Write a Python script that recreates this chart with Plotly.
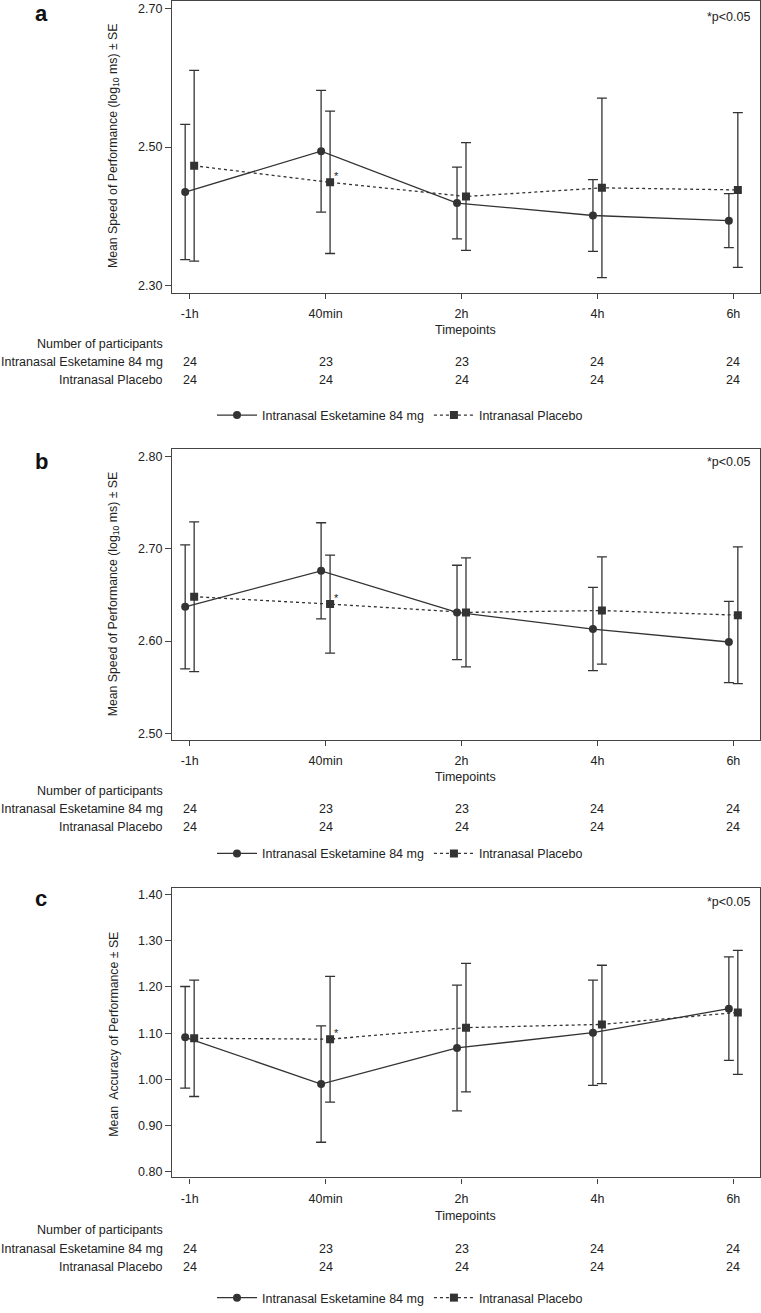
import plotly.graph_objects as go

W, H = 761, 1313

# ---------------- data ----------------
timepoints = ["-1h", "40min", "2h", "4h", "6h"]
group_names = ["Intranasal Esketamine 84 mg", "Intranasal Placebo"]

n_esk = [24, 23, 23, 24, 24]
n_pla = [24, 24, 24, 24, 24]

# Panel a: speed of performance (log10 ms)
a_esk_mean = [2.435, 2.494, 2.419, 2.401, 2.3935]
a_esk_se = [0.098, 0.088, 0.052, 0.052, 0.039]
a_pla_mean = [2.473, 2.449, 2.4285, 2.441, 2.438]
a_pla_se = [0.138, 0.103, 0.078, 0.130, 0.112]

# Panel b: speed of performance (log10 ms)
b_esk_mean = [2.637, 2.676, 2.631, 2.613, 2.599]
b_esk_se = [0.067, 0.052, 0.051, 0.045, 0.044]
b_pla_mean = [2.648, 2.640, 2.631, 2.633, 2.628]
b_pla_se = [0.081, 0.053, 0.059, 0.058, 0.074]

# Panel c: accuracy of performance
c_esk_mean = [1.091, 0.990, 1.068, 1.101, 1.153]
c_esk_se = [0.110, 0.126, 0.136, 0.114, 0.112]
c_pla_mean = [1.089, 1.087, 1.112, 1.119, 1.145]
c_pla_se = [0.126, 0.136, 0.139, 0.128, 0.134]

a_yticks = [2.30, 2.50, 2.70]
b_yticks = [2.50, 2.60, 2.70, 2.80]
c_yticks = [0.80, 0.90, 1.00, 1.10, 1.20, 1.30, 1.40]

sig_index = 1  # 40min, placebo marked *

# ---------------- style / layout helpers ----------------
FONT = "Liberation Sans, Arial, sans-serif"
FS = 12.5
TXT = "#222222"
LINE = "#333333"
AX = "#444444"
DODGE = 0.033


def py(p):
    return 1 - p / H


def px(p):
    return p / W


panels = [
    dict(key="a", esk=a_esk_mean, esk_se=a_esk_se, pla=a_pla_mean, pla_se=a_pla_se,
         yticks=a_yticks, yrange=[2.2885, 2.7115], top=1, bottom=295,
         ytitle="Mean Speed of Performance (log<sub>10</sub> ms) ± SE", ytitle_y=146,
         letter_y=14, p_y=17, tp_y=332, num_y=346, e_y=364, p2_y=382, leg_y=418),
    dict(key="b", esk=b_esk_mean, esk_se=b_esk_se, pla=b_pla_mean, pla_se=b_pla_se,
         yticks=b_yticks, yrange=[2.4928, 2.8075], top=452, bottom=744.7,
         ytitle="Mean Speed of Performance (log<sub>10</sub> ms) ± SE", ytitle_y=597,
         letter_y=464, p_y=465, tp_y=782, num_y=796, e_y=814, p2_y=832, leg_y=859),
    dict(key="c", esk=c_esk_mean, esk_se=c_esk_se, pla=c_pla_mean, pla_se=c_pla_se,
         yticks=c_yticks, yrange=[0.7878, 1.4144], top=893.3, bottom=1184.7,
         ytitle="Mean\u00a0 Accuracy of Performance ± SE", ytitle_y=1040,
         letter_y=904, p_y=908, tp_y=1223, num_y=1238, e_y=1257, p2_y=1275, leg_y=1306),
]

fig = go.Figure()
annotations = []
layout = dict(
    width=W, height=H, margin=dict(l=0, r=0, t=0, b=0),
    paper_bgcolor="white", plot_bgcolor="white",
    font=dict(family=FONT, size=FS, color=TXT),
)

xidx = list(range(len(timepoints)))
X_DOMAIN = [px(172), px(760)]

for i, p in enumerate(panels):
    sfx = "" if i == 0 else str(i + 1)
    xa, ya = "x" + sfx, "y" + sfx
    leg = "legend" + sfx

    fig.add_trace(go.Scatter(
        x=[v - DODGE for v in xidx], y=p["esk"], xaxis=xa, yaxis=ya,
        mode="lines+markers", name=group_names[0], legend=leg,
        line=dict(color=LINE, width=1.3, dash="solid"),
        marker=dict(symbol="circle", size=8, color=LINE),
        error_y=dict(type="data", array=p["esk_se"], visible=True,
                     color=LINE, thickness=1.3, width=5),
    ))
    fig.add_trace(go.Scatter(
        x=[v + DODGE for v in xidx], y=p["pla"], xaxis=xa, yaxis=ya,
        mode="lines+markers", name=group_names[1], legend=leg,
        line=dict(color=LINE, width=1.3, dash="3px,3px"),
        marker=dict(symbol="square", size=8, color=LINE),
        error_y=dict(type="data", array=p["pla_se"], visible=True,
                     color=LINE, thickness=1.3, width=5),
    ))

    layout["xaxis" + sfx] = dict(
        domain=X_DOMAIN, anchor=ya, range=[-0.13, 4.196],
        tickvals=xidx, ticktext=timepoints, ticks="outside", ticklen=5,
        tickwidth=1.2, tickcolor=AX, showline=True, linecolor=AX, linewidth=1.3,
        mirror=True, showgrid=False, zeroline=False, ticklabelstandoff=4,
        tickfont=dict(size=FS, color=TXT, family=FONT),
    )
    layout["yaxis" + sfx] = dict(
        domain=[py(p["bottom"]), py(p["top"])], anchor=xa, range=p["yrange"],
        tickvals=p["yticks"], tickformat=".2f", ticks="outside", ticklen=6,
        tickwidth=1.2, tickcolor=AX, showline=True, linecolor=AX, linewidth=1.3,
        mirror=True, showgrid=False, zeroline=False,
        tickfont=dict(size=FS, color=TXT, family=FONT),
    )
    layout[leg] = dict(
        orientation="h", x=px(400), xanchor="center", y=py(p["leg_y"]),
        yanchor="middle", bgcolor="rgba(0,0,0,0)",
        font=dict(size=FS, color=TXT, family=FONT), itemwidth=40,
    )

    # panel letter
    annotations.append(dict(text="<b>%s</b>" % p["key"], xref="paper", yref="paper",
                            x=px(41), y=py(p["letter_y"]), xanchor="center",
                            yanchor="middle", showarrow=False,
                            font=dict(size=22, color="#111111", family=FONT)))
    # y-axis title
    annotations.append(dict(text=p["ytitle"], xref="paper", yref="paper",
                            x=px(114), y=py(p["ytitle_y"]), xanchor="center",
                            yanchor="middle", textangle=-90, showarrow=False,
                            font=dict(size=12.3, color=TXT, family=FONT)))
    # p-value note
    annotations.append(dict(text="*p<0.05", xref="paper", yref="paper",
                            x=px(752), y=py(p["p_y"]), xanchor="right",
                            yanchor="middle", showarrow=False,
                            font=dict(size=FS, color=TXT, family=FONT)))
    # significance asterisk
    annotations.append(dict(text="*", xref=xa, yref=ya,
                            x=sig_index + DODGE, y=p["pla"][sig_index],
                            xshift=6, yshift=6, showarrow=False,
                            font=dict(size=11, color=TXT, family=FONT)))
    # x-axis title
    annotations.append(dict(text="Timepoints", xref="paper", yref="paper",
                            x=px(466), y=py(p["tp_y"]), xanchor="center",
                            yanchor="middle", showarrow=False,
                            font=dict(size=FS, color=TXT, family=FONT)))
    # participant table
    for lab, yy in [("Number of participants", p["num_y"]),
                    (group_names[0], p["e_y"]), (group_names[1], p["p2_y"])]:
        annotations.append(dict(text=lab, xref="paper", yref="paper",
                                x=px(165), y=py(yy), xanchor="right",
                                yanchor="middle", showarrow=False,
                                font=dict(size=FS, color=TXT, family=FONT)))
    for counts, yy in [(n_esk, p["e_y"]), (n_pla, p["p2_y"])]:
        for k, c in enumerate(counts):
            annotations.append(dict(text=str(c), xref=xa, yref="paper",
                                    x=xidx[k], y=py(yy), xanchor="center",
                                    yanchor="middle", showarrow=False,
                                    font=dict(size=FS, color=TXT, family=FONT)))

layout["annotations"] = annotations
fig.update_layout(**layout)
fig.write_html(
    "out.html",
    config={"displayModeBar": False},
    post_script="document.body.style.margin='0';document.body.style.overflow='hidden';",
)
